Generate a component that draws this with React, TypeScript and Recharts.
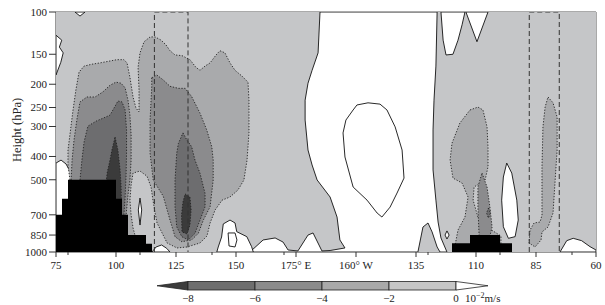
import React from 'react';
import { ComposedChart, Scatter, XAxis, YAxis, ReferenceLine } from 'recharts';

type Pt = [number, number];

// ---- axes ----
const X_TICKS = [75, 100, 125, 150, 175, 200, 225, 250, 275, 300];
const X_LABELS = ['75', '100', '125', '150', '175° E', '160° W', '135', '110', '85', '60'];
const X_MINOR = [80, 110, 140, 170, 230, 260, 290];
const Y_TICKS = [100, 150, 200, 250, 300, 400, 500, 700, 850, 1000];

// ---- colour bar ----
const CBAR_LEVELS = [-8, -6, -4, -2, 0];
const CBAR_COLORS = ['#6e6e6e', '#8b8b8b', '#a9a9a9', '#c6c6c6'];

// ---- fills per contour band ----
const F_POS = '#ffffff';
const F_L1 = '#c5c6c8'; // -2..0
const F_L2 = '#a9aaac'; // -4..-2
const F_L3 = '#8b8b8d'; // -6..-4
const F_L4 = '#6d6d6f'; // -8..-6
const F_L5 = '#3b3b3b'; // < -8

// ---- regions (lon in degrees east 75..300, pressure hPa) ----
const BASE: Pt[] = [[75, 100], [300, 100], [300, 1000], [75, 1000]];

const W_CENTRAL: Pt[] = [
  [185, 100], [184.2, 148], [181.7, 175], [180, 198], [178.8, 233], [178.8, 282], [180, 376], [181.7, 434],
  [183.8, 501], [189.2, 590], [192.1, 715], [193.3, 891], [195.4, 962], [189.2, 986], [185.8, 990],
  [182.1, 833], [180, 850], [175.8, 990], [171.7, 981], [169.6, 909], [166.3, 874], [161.3, 891],
  [155.8, 1000], [225.8, 1000], [227.9, 787], [230, 757], [231.7, 825], [233.8, 953], [235, 1000],
  [237.9, 1000], [235.4, 874], [234.2, 750], [233.3, 608], [232.1, 455], [232.1, 310], [232.5, 233],
  [233.3, 168], [233.8, 100],
];
const OVAL: Pt[] = [
  [205, 239], [210, 242], [212.9, 256], [216.3, 301], [219.2, 376], [220, 492], [217.1, 568], [214.2, 650],
  [210.8, 715], [208.8, 688], [204.6, 608], [198.8, 536], [195.4, 402], [194.6, 319], [195.8, 282],
  [198.8, 256], [200.4, 244],
];
const W_LEFT_TOP: Pt[] = [[75, 125], [77.4, 131], [76.4, 140], [78, 148], [77, 162], [75, 183]];
const W_TOPV: Pt[] = [[82.9, 100], [85, 104], [87.1, 100]];
const W_LEFT_MID: Pt[] = [[75, 426], [77.1, 414], [79.2, 430], [81.2, 469], [81.2, 810], [75, 810]];
const W_LENS: Pt[] = [[110, 596], [110.7, 668], [110, 772], [109.3, 668]];
const W_B1: Pt[] = [[115, 1000], [116.7, 953], [119, 935], [121.1, 965], [122.5, 1000]];
const W_B2: Pt[] = [
  [142, 1000], [142.6, 953], [144, 866], [144.7, 764], [147.5, 736], [149.6, 757], [150.3, 823],
  [154.5, 863], [156.5, 950], [157.2, 1000],
];
const D_SHAPE: Pt[] = [[146.7, 833], [149.6, 833], [150.4, 891], [149.6, 953], [147.1, 944]];
const W_BR: Pt[] = [[285, 1000], [287.8, 897], [290.5, 877], [294, 897], [297.5, 950], [300, 981], [300, 1000]];
const W_SLOT: Pt[] = [[235.4, 100], [236.3, 131], [237.5, 151], [240.4, 150], [242.5, 131], [244.2, 113], [245.4, 100]];
const W_V: Pt[] = [[245.8, 100], [250.4, 133], [255, 100]];
const W_LENS_R: Pt[] = [
  [262.8, 426], [264.9, 469], [267, 608], [267.6, 736], [266.3, 863], [263.5, 877], [261.4, 785],
  [260.7, 608], [261.4, 487],
];
const W_DIAMOND: Pt[] = [[237.1, 850], [237.9, 817], [238.8, 850], [237.9, 883]];

const N1: Pt[] = [
  [80.8, 501], [80, 434], [80, 376], [80.8, 325], [82.1, 256], [83.3, 211], [84.6, 178], [86.7, 168],
  [90, 165], [93.3, 163], [97.5, 160], [100.4, 158], [103.3, 158], [104.6, 163], [105.8, 187],
  [107.1, 226], [108.3, 251], [109.6, 261], [109.6, 211], [109.2, 170], [110, 148], [111.7, 133],
  [114.2, 127], [116.3, 127], [118.8, 131], [120.8, 137], [122.5, 145], [124.6, 151], [127.5, 152],
  [130.8, 158], [133.3, 170], [135, 175], [137.1, 168], [139.2, 163], [141.7, 151], [143.3, 145],
  [145.4, 148], [147.5, 163], [149.6, 175], [152.5, 185], [155, 196], [155.4, 233], [155.4, 319],
  [154.6, 414], [153.3, 501], [150.8, 552], [147.5, 590], [144.2, 608], [141.3, 668], [139.2, 757],
  [137.9, 858], [135, 917], [129.6, 953], [125.4, 962], [121.3, 917], [119.2, 833], [117.1, 757],
  [116.3, 688], [115.4, 608], [114.6, 536], [112.9, 483], [110, 460], [107.1, 469], [106.3, 526],
  [105.8, 608], [106.3, 701], [107.1, 794], [107.9, 850], [104.2, 891], [81.7, 891],
];
const N2L: Pt[] = [
  [81.3, 501], [81.7, 414], [82.5, 342], [83.8, 277], [85, 237], [87.9, 226], [91.3, 226], [94.6, 215],
  [97.5, 202], [100, 196], [102.1, 198], [103.8, 207], [105, 233], [105.8, 269], [106.3, 325],
  [106.3, 414], [105.8, 501], [105, 579], [104.2, 701], [93.3, 810], [81.7, 810],
];
const N3L: Pt[] = [
  [85, 501], [85.8, 414], [86.7, 348], [88.3, 299], [91.7, 285], [94.6, 277], [97.5, 269], [99.6, 247],
  [100.8, 235], [102.5, 237], [103.8, 256], [104.4, 310], [104.4, 387], [104.2, 478], [103.8, 590],
  [103.3, 701], [93.3, 772], [85, 772],
];
const N4L: Pt[] = [
  [99.6, 332], [100.8, 376], [101.7, 455], [102.1, 526], [102.3, 637], [95.8, 637], [95.8, 526],
  [96.3, 469], [97.5, 414], [98.3, 376],
];
const N2M: Pt[] = [
  [114.9, 188], [117, 183], [119.7, 192], [122.5, 204], [126, 208], [128.8, 208], [131.5, 225],
  [135, 264], [137.8, 310], [139.9, 364], [140.5, 414], [140.5, 501], [139.2, 648], [136.4, 736],
  [134.3, 836], [131.5, 891], [127.4, 906], [124.6, 863], [122.5, 736], [119.7, 586], [115.5, 501],
  [114.2, 388], [114.2, 282], [114.9, 205],
];
const N3M: Pt[] = [
  [127.9, 319], [129.5, 341], [131.5, 364], [132.9, 414], [135, 470], [137.1, 570], [137.1, 648],
  [135, 736], [132.9, 836], [130.1, 891], [127.4, 863], [125.3, 785], [124.6, 648], [124.6, 501],
  [125.3, 388], [126, 353],
];
const N4M: Pt[] = [
  [128.8, 573], [130.8, 590], [131.3, 668], [130.8, 772], [129.6, 841], [127.5, 825], [127.3, 701], [127.9, 619],
];
const N1R: Pt[] = [
  [247.5, 256], [250.8, 249], [252.9, 256], [254.6, 301], [255, 365], [255, 442], [253.8, 501],
  [249.2, 536], [248.8, 608], [250.8, 715], [255.8, 802], [260.4, 858], [260.4, 935], [241.3, 935],
  [242.5, 810], [245.4, 715], [246.7, 590], [244.2, 516], [240.4, 492], [239.2, 414], [240, 352], [243.3, 290],
];
const N2R: Pt[] = [
  [252.5, 469], [254.6, 536], [255.8, 650], [256.7, 787], [255.8, 858], [251.3, 858], [250.8, 650], [250.8, 536],
];
const N3R: Pt[] = [[255.2, 656], [256, 688], [255.2, 722], [254.4, 688]];
const N1R2: Pt[] = [
  [280, 226], [282.1, 239], [283.8, 274], [283.8, 376], [282.9, 516], [282.1, 688], [280, 787],
  [277.5, 825], [277.1, 891], [274.6, 953], [272.1, 917], [272.5, 810], [274.2, 757], [276.7, 750],
  [277.5, 701], [277.5, 442], [277.9, 301], [278.8, 249],
];

const TOPO_L: Pt[] = [
  [75, 700], [77.5, 700], [77.5, 600], [80, 600], [80, 500], [100, 500], [100, 600], [102.5, 600],
  [102.5, 700], [105, 700], [105, 850], [112.5, 850], [112.5, 925], [115, 925], [115, 1000], [75, 1000],
];
const TOPO_R: Pt[] = [
  [240, 920], [247.5, 920], [247.5, 850], [260, 850], [260, 920], [265, 920], [265, 1000], [240, 1000],
];

const BOX1: Pt[] = [[116, 1000], [116, 100], [130, 100], [130, 1000]];
const BOX2: Pt[] = [[272.2, 1000], [272.2, 100], [284.7, 100], [284.7, 1000]];

const FONT = '"Liberation Serif", "DejaVu Serif", serif';
const SOLID = '#111';
const DOT = '1.3 1.6';

const EmptyShape = () => <g />;

function poly(
  key: string,
  pts: Pt[],
  fill: string,
  stroke: string,
  dash?: string,
  closed: boolean = true,
  width: number = 0.9
) {
  const lineProps: any = { fill, stroke, strokeWidth: width };
  if (dash) lineProps.strokeDasharray = dash;
  return (
    <Scatter
      key={key}
      name={key}
      data={pts.map(([x, y]) => ({ x, y }))}
      shape={EmptyShape}
      line={lineProps}
      lineType="joint"
      lineJointType={closed ? 'linearClosed' : 'linear'}
      isAnimationActive={false}
      legendType="none"
    />
  );
}

const XTick = (props: any) => {
  const { x, y, payload } = props;
  const v = payload.value;
  const idx = X_TICKS.indexOf(v);
  const major = idx >= 0;
  const axisY = y - 9;
  return (
    <g>
      <line x1={x} x2={x} y1={axisY} y2={axisY + (major ? 5 : 3)} stroke="#333" strokeWidth={1} />
      {major && (
        <text x={x} y={y} dy="0.71em" textAnchor="middle" fontSize={11} fill="#222" fontFamily={FONT}>
          {X_LABELS[idx]}
        </text>
      )}
    </g>
  );
};

const allXTicks = [...X_TICKS, ...X_MINOR].sort((a, b) => a - b);

export default function App() {
  const cbX = (v: number) => 188 + (v + 8) * 33.5;
  const barTop = 281.5;
  const barBot = 290;
  const barMid = (barTop + barBot) / 2;
  return (
    <div style={{ position: 'absolute', left: 0, top: 0, width: 605, height: 305, fontFamily: FONT, background: '#fff' }}>
      <ComposedChart width={605} height={305} margin={{ top: 12, right: 9, bottom: 28, left: 0 }}>
        <XAxis
          type="number"
          dataKey="x"
          domain={[75, 300]}
          ticks={allXTicks}
          interval={0}
          allowDataOverflow
          tick={<XTick />}
          tickLine={false}
          tickSize={5}
          tickMargin={4}
          height={25}
          axisLine={{ stroke: '#333' }}
        />
        <YAxis
          type="number"
          dataKey="y"
          scale="log"
          domain={[100, 1000]}
          reversed
          ticks={Y_TICKS}
          interval={0}
          allowDataOverflow
          width={56}
          tickSize={7}
          tickMargin={2}
          tick={{ fontSize: 11, fill: '#222', fontFamily: FONT }}
          tickLine={{ stroke: '#333' }}
          axisLine={{ stroke: '#333' }}
        />
        {poly('base', BASE, F_L1, 'none')}
        {poly('wc', W_CENTRAL, F_POS, SOLID)}
        {poly('wlt', W_LEFT_TOP, F_POS, SOLID)}
        {poly('wtv', W_TOPV, F_POS, SOLID)}
        {poly('wlm', W_LEFT_MID, F_POS, SOLID)}
        {poly('wlens', W_LENS, F_POS, SOLID)}
        {poly('wb1', W_B1, F_POS, SOLID)}
        {poly('wb2', W_B2, F_POS, SOLID)}
        {poly('wbr', W_BR, F_POS, SOLID)}
        {poly('wslot', W_SLOT, F_POS, SOLID)}
        {poly('wv', W_V, F_POS, SOLID)}
        {poly('wlensr', W_LENS_R, F_POS, SOLID)}
        {poly('wdia', W_DIAMOND, F_POS, SOLID)}
        {poly('oval', OVAL, 'none', SOLID)}
        {poly('dshape', D_SHAPE, 'none', SOLID)}
        {poly('n1', N1, F_L2, '#222', DOT)}
        {poly('n2l', N2L, F_L3, '#222', DOT)}
        {poly('n3l', N3L, F_L4, '#222', DOT)}
        {poly('n4l', N4L, F_L5, '#222', DOT)}
        {poly('n2m', N2M, F_L3, '#222', DOT)}
        {poly('n3m', N3M, F_L4, '#222', DOT)}
        {poly('n4m', N4M, F_L5, '#222', DOT)}
        {poly('n1r', N1R, F_L2, '#222', DOT)}
        {poly('n2r', N2R, F_L3, '#222', DOT)}
        {poly('n3r', N3R, F_L4, '#222', DOT)}
        {poly('n1r2', N1R2, F_L2, '#222', DOT)}
        {poly('topol', TOPO_L, '#000', 'none')}
        {poly('topor', TOPO_R, '#000', 'none')}
        {poly('box1', BOX1, 'none', '#333', '5 3', false, 1)}
        {poly('box2', BOX2, 'none', '#333', '5 3', false, 1)}
        <ReferenceLine y={100} stroke="#555" strokeWidth={1} />
        <ReferenceLine x={300} stroke="#555" strokeWidth={1} />
      </ComposedChart>
      <svg width={605} height={305} style={{ position: 'absolute', left: 0, top: 0, pointerEvents: 'none' }}>
        <text
          x={21}
          y={130}
          transform="rotate(-90 21 130)"
          textAnchor="middle"
          fontSize={12.5}
          fill="#222"
          fontFamily={FONT}
        >
          Height (hPa)
        </text>
        <polygon
          points={`${cbX(-8)},${barTop} ${cbX(-8)},${barBot} 157,${barMid}`}
          fill="#3c3c3c"
          stroke="#222"
          strokeWidth={0.8}
        />
        {CBAR_COLORS.map((c, i) => (
          <rect
            key={i}
            x={cbX(CBAR_LEVELS[i])}
            y={barTop}
            width={cbX(CBAR_LEVELS[i + 1]) - cbX(CBAR_LEVELS[i])}
            height={barBot - barTop}
            fill={c}
            stroke="#222"
            strokeWidth={0.8}
          />
        ))}
        <polygon
          points={`${cbX(0)},${barTop} ${cbX(0)},${barBot} 488,${barMid}`}
          fill="#fff"
          stroke="#222"
          strokeWidth={0.8}
        />
        {CBAR_LEVELS.map((v) => (
          <text key={v} x={cbX(v)} y={302} textAnchor="middle" fontSize={11} fill="#222" fontFamily={FONT}>
            {v < 0 ? `\u2212${Math.abs(v)}` : `${v}`}
          </text>
        ))}
        <text x={465} y={302} fontSize={11} fill="#222" fontFamily={FONT}>
          10
          <tspan dy={-4} fontSize={8}>
            {'\u22122'}
          </tspan>
          <tspan dy={4}>m/s</tspan>
        </text>
      </svg>
    </div>
  );
}
